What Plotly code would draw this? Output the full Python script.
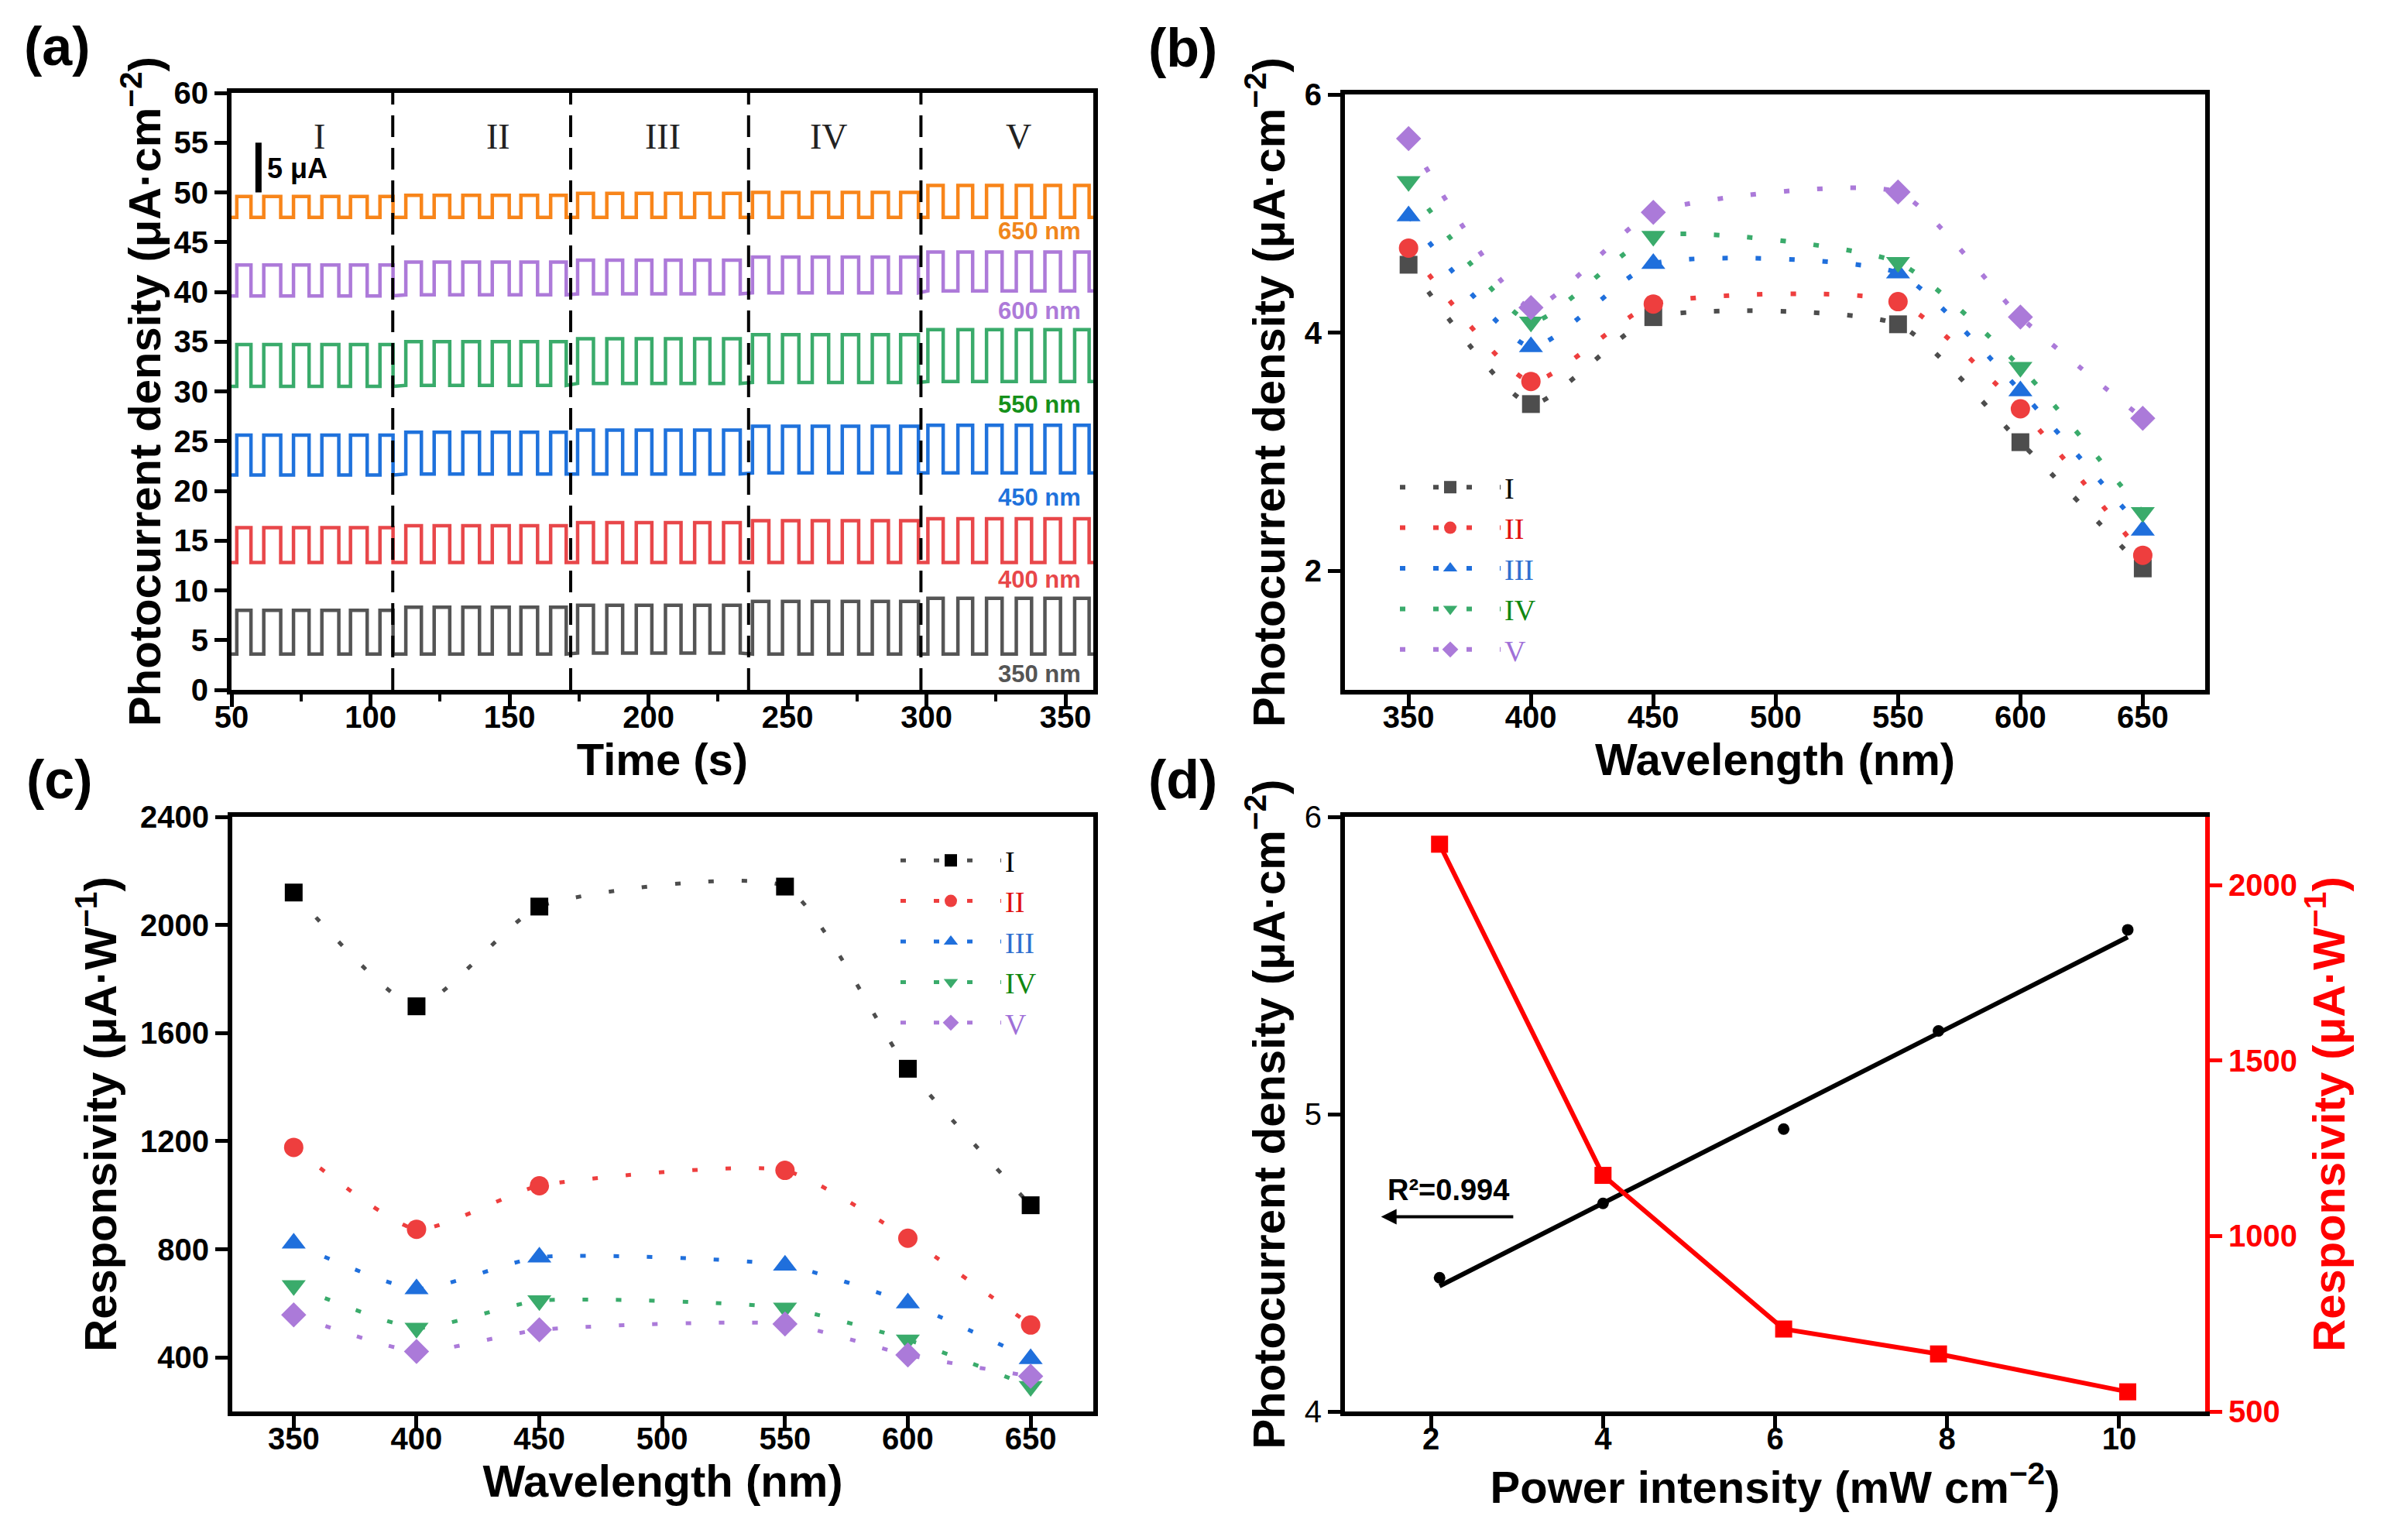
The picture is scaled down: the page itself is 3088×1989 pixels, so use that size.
import numpy as np
import plotly.graph_objects as go

# ---------------- data ----------------
# (a) on/off photocurrent response, five stages I-V
wave_labels = ['350 nm', '400 nm', '450 nm', '550 nm', '600 nm', '650 nm']
stage_edges = [108, 172, 236, 298]
stage_names = ['I', 'II', 'III', 'IV', 'V']

light_on = [51.9, 61.6, 72.3, 82.5, 92.8, 103.4,
            112.7, 122.9, 133.2, 143.8, 154.1, 164.8,
            174.5, 185.0, 195.6, 206.1, 216.6, 227.0,
            237.4, 248.2, 258.9, 269.7, 280.5, 290.7,
            300.5, 311.3, 321.6, 332.3, 342.6, 353.3]
light_off = [57.0, 67.7, 77.9, 88.6, 98.8, 108.1,
             118.3, 128.5, 139.2, 149.9, 160.1, 170.4,
             180.2, 190.7, 201.2, 211.7, 222.1, 233.0,
             243.3, 254.1, 264.8, 275.6, 286.3, 297.1,
             306.0, 316.6, 327.2, 337.8, 348.2, 358.5]

# plateau levels per stage (I..V)
high_350 = [8.0, 8.3, 8.5, 8.9, 9.2]
low_350 = [3.6, 3.6, 3.7, 3.6, 3.6]
high_400 = [16.3, 16.5, 16.8, 17.0, 17.2]
low_400 = [12.8, 12.8, 12.8, 12.8, 12.8]
high_450 = [25.6, 25.9, 26.1, 26.5, 26.6]
low_450 = [21.6, 21.7, 21.7, 21.8, 21.8]
high_550 = [34.7, 35.0, 35.3, 35.7, 36.2]
low_550 = [30.5, 30.6, 30.8, 30.9, 31.0]
high_600 = [42.7, 43.0, 43.2, 43.5, 44.0]
low_600 = [39.6, 39.7, 39.8, 39.9, 40.1]
high_650 = [49.6, 49.7, 49.9, 50.0, 50.7]
low_650 = [47.5, 47.5, 47.5, 47.5, 47.5]

# (b) photocurrent density vs wavelength
wavelength = [350, 400, 450, 550, 600, 650]
jph_I = [4.57, 3.40, 4.13, 4.07, 3.08, 2.02]
jph_II = [4.71, 3.59, 4.24, 4.26, 3.36, 2.13]
jph_III = [4.98, 3.88, 4.58, 4.50, 3.51, 2.34]
jph_IV = [5.27, 4.09, 4.81, 4.59, 3.71, 2.49]
jph_V = [5.63, 4.21, 5.01, 5.18, 4.13, 3.28]

# (c) responsivity vs wavelength
resp_I = [2120, 1699, 2068, 2142, 1468, 963]
resp_II = [1177, 874, 1035, 1092, 841, 520]
resp_III = [822, 653, 771, 741, 601, 395]
resp_IV = [666, 509, 610, 583, 465, 293]
resp_V = [557, 422, 502, 524, 409, 330]

# (d) power dependence
power = [2.1, 4.0, 6.1, 7.9, 10.1]
jph_power = [4.45, 4.70, 4.95, 5.28, 5.62]
resp_power = [2117, 1173, 735, 664, 556]

# ---------------- style ----------------
W, H = 3088, 1989
SANS = 'Liberation Sans, Arial, sans-serif'
SERIF = 'Liberation Serif, Times New Roman, serif'

col_a = ['#555555', '#e8474a', '#1f72dc', '#3aab6b', '#ad7ad9', '#f8851a']
lab_col_a = ['#555555', '#e8474a', '#1f72dc', '#15901a', '#ad7ad9', '#f0861c']
ser_col = ['#4d4d4d', '#ee3e3e', '#1f6fdc', '#3aab6b', '#ab7ad9']
ser_txt = ['#000000', '#e01010', '#3070d0', '#118811', '#a070d8']
ser_sym = ['square', 'circle', 'triangle-up', 'triangle-down', 'diamond']
ser_size = [23, 25, 27, 27, 25]


def dx(a, b):
    return [a / W, b / W]


def dy(top, bottom):
    return [1 - bottom / H, 1 - top / H]


def axis(**kw):
    base = dict(showline=True, linewidth=6, linecolor='black', mirror=True,
                ticks='outside', ticklen=16, tickwidth=5, tickcolor='black',
                showgrid=False, zeroline=False, automargin=False,
                tickfont=dict(family=SANS, size=40, color='black', weight='bold'),
                title_font=dict(family=SANS, size=58, color='black', weight='bold'))
    base.update(kw)
    return base


def square_wave(high, low):
    xs, ys = [50], [low[0]]
    for t_on, t_off in zip(light_on, light_off):
        k = int(np.searchsorted(stage_edges, t_on))
        xs += [t_on, t_on, t_off, t_off]
        ys += [low[k], high[k], high[k], low[k]]
    xs.append(360)
    ys.append(low[-1])
    return xs, ys


fig = go.Figure()

# ---- (a) ----
highs = [high_350, high_400, high_450, high_550, high_600, high_650]
lows = [low_350, low_400, low_450, low_550, low_600, low_650]
for i in range(6):
    xs, ys = square_wave(highs[i], lows[i])
    fig.add_trace(go.Scatter(x=xs, y=ys, mode='lines', xaxis='x', yaxis='y',
                             line=dict(color=col_a[i], width=4.5), showlegend=False))

for e in stage_edges:
    fig.add_shape(type='line', xref='x', yref='y domain', x0=e, x1=e, y0=0, y1=1,
                  line=dict(color='black', width=4, dash='28px,14px'))

name_x = [81.5, 146, 205, 265, 333]
for nx, nm in zip(name_x, stage_names):
    fig.add_annotation(x=nx, y=55.6, xref='x', yref='y', text=nm, showarrow=False,
                       font=dict(family=SERIF, size=46, color='#222222'))

label_y = [1.6, 11.1, 19.3, 28.7, 38.1, 46.1]
for i in range(6):
    fig.add_annotation(x=356, y=label_y[i], xref='x', yref='y', text=wave_labels[i],
                       showarrow=False, xanchor='right',
                       font=dict(family=SANS, size=31, color=lab_col_a[i], weight='bold'))

# 5 uA scale bar
fig.add_shape(type='line', xref='x', yref='y', x0=59.7, x1=59.7, y0=50, y1=55,
              line=dict(color='black', width=8))
fig.add_annotation(x=62.3, y=52.4, xref='x', yref='y', text='5 μA', showarrow=False,
                   xanchor='left', font=dict(family=SANS, size=36, color='black', weight='bold'))

# ---- (b) ----
names_b = ['I', 'II', 'III', 'IV', 'V']
jph_all = [jph_I, jph_II, jph_III, jph_IV, jph_V]
for i in range(5):
    fig.add_trace(go.Scatter(
        x=wavelength, y=jph_all[i], mode='lines+markers', xaxis='x2', yaxis='y2',
        line=dict(color=ser_col[i], width=6, dash='7px,36px', shape='spline', smoothing=0.55),
        marker=dict(symbol=ser_sym[i], size=ser_size[i], color=ser_col[i]),
        name="<span style='color:%s'>%s</span>" % (ser_txt[i], names_b[i]),
        legend='legend'))

# ---- (c) ----
resp_all = [resp_I, resp_II, resp_III, resp_IV, resp_V]
for i in range(5):
    mcol = '#000000' if i == 0 else ser_col[i]
    fig.add_trace(go.Scatter(
        x=wavelength, y=resp_all[i], mode='lines+markers', xaxis='x3', yaxis='y3',
        line=dict(color=ser_col[i], width=5, dash='7px,36px', shape='spline', smoothing=0.55),
        marker=dict(symbol=ser_sym[i], size=ser_size[i], color=mcol),
        name="<span style='color:%s'>%s</span>" % (ser_txt[i], names_b[i]),
        legend='legend2'))

# ---- (d) ----
slope, icpt = np.polyfit(power, jph_power, 1)
fit_x = [power[0], power[-1]]
fig.add_trace(go.Scatter(x=fit_x, y=[slope * v + icpt for v in fit_x], mode='lines',
                         xaxis='x4', yaxis='y4', line=dict(color='black', width=6),
                         showlegend=False))
fig.add_trace(go.Scatter(x=power, y=jph_power, mode='markers', xaxis='x4', yaxis='y4',
                         marker=dict(color='black', size=15), showlegend=False))
fig.add_trace(go.Scatter(x=power, y=resp_power, mode='lines+markers', xaxis='x4', yaxis='y5',
                         line=dict(color='#ff0000', width=6),
                         marker=dict(symbol='square', size=22, color='#ff0000'),
                         showlegend=False))
fig.add_annotation(x=2.2, y=4.745, xref='x4', yref='y4', text='R²=0.994', showarrow=False,
                   font=dict(family='Liberation Sans Narrow, ' + SANS, size=38, color='black',
                             weight='bold'))
fig.add_annotation(x=1.42, y=4.655, ax=2.97, ay=4.655, xref='x4', yref='y4',
                   axref='x4', ayref='y4', text='', showarrow=True, arrowhead=2,
                   arrowsize=1.0, arrowwidth=4, arrowcolor='black')

# panel labels
for lab, px_, py_ in [('(a)', 66, 52), ('(b)', 1519, 54), ('(c)', 69, 999), ('(d)', 1519, 999)]:
    fig.add_annotation(x=px_ / W, y=1 - py_ / H, xref='paper', yref='paper', text=lab,
                       xanchor='center', yanchor='middle', showarrow=False,
                       font=dict(family=SANS, size=70, color='black', weight='bold'))

jtitle = 'Photocurrent density (μA·cm<sup>−2</sup>)'
rtitle = 'Responsivity (μA·W<sup>−1</sup>)'
wl_ticks = [350, 400, 450, 500, 550, 600, 650]
XOFF = -21

fig.update_layout(
    width=W, height=H, margin=dict(l=0, r=0, t=0, b=0, autoexpand=False),
    paper_bgcolor='white', plot_bgcolor='white',
    xaxis=axis(domain=dx(291, 1404), anchor='y', range=[50, 360], tick0=50, dtick=50,
               ticklabelstandoff=XOFF,
               minor=dict(ticks='outside', ticklen=9, tickwidth=4, tickcolor='black', dtick=25),
               title=dict(text='Time (s)', standoff=0)),
    yaxis=axis(domain=dy(112, 883), anchor='x', range=[0, 60], dtick=5,
               title=dict(text=jtitle, standoff=0)),
    xaxis2=axis(domain=dx(1729, 2840), anchor='y2', range=[324, 675.5], tickvals=wl_ticks,
                ticklabelstandoff=XOFF,
                title=dict(text='Wavelength (nm)', standoff=0)),
    yaxis2=axis(domain=dy(114, 883), anchor='x2', range=[1, 6], tickvals=[2, 4, 6],
                title=dict(text=jtitle, standoff=8)),
    xaxis3=axis(domain=dx(292, 1404), anchor='y3', range=[325, 675.5], tickvals=wl_ticks,
                ticklabelstandoff=XOFF,
                title=dict(text='Wavelength (nm)', standoff=0)),
    yaxis3=axis(domain=dy(1047, 1815), anchor='x3', range=[200, 2400],
                tickvals=[400, 800, 1200, 1600, 2000, 2400],
                title=dict(text=rtitle, standoff=14)),
    xaxis4=axis(domain=dx(1729, 2840), anchor='y4', range=[1, 11], tickvals=[2, 4, 6, 8, 10],
                ticklabelstandoff=XOFF,
                title=dict(text='Power intensity (mW cm<sup>−2</sup>)', standoff=0)),
    yaxis4=axis(domain=dy(1047, 1815), anchor='x4', range=[4, 6], tickvals=[4, 5, 6],
                mirror=False,
                tickfont=dict(family=SANS, size=40, color='black'),
                title=dict(text=jtitle, standoff=8)),
    yaxis5=axis(domain=dy(1047, 1815), anchor='x4', overlaying='y4', side='right',
                range=[500, 2195], tickvals=[500, 1000, 1500, 2000], mirror=False,
                linecolor='#ff0000', tickcolor='#ff0000',
                tickfont=dict(family=SANS, size=40, color='#ff0000', weight='bold'),
                title=dict(text=rtitle, standoff=12,
                           font=dict(family=SANS, size=58, color='#ff0000', weight='bold'))),
    legend=dict(x=1795 / W, y=1 - 590 / H, xanchor='left', yanchor='top',
                bgcolor='rgba(0,0,0,0)', font=dict(family=SERIF, size=38),
                itemwidth=130, tracegroupgap=0),
    legend2=dict(x=1150 / W, y=1 - 1072 / H, xanchor='left', yanchor='top',
                 bgcolor='rgba(0,0,0,0)', font=dict(family=SERIF, size=38),
                 itemwidth=130, tracegroupgap=0),
)

fig.write_html('out.html')
